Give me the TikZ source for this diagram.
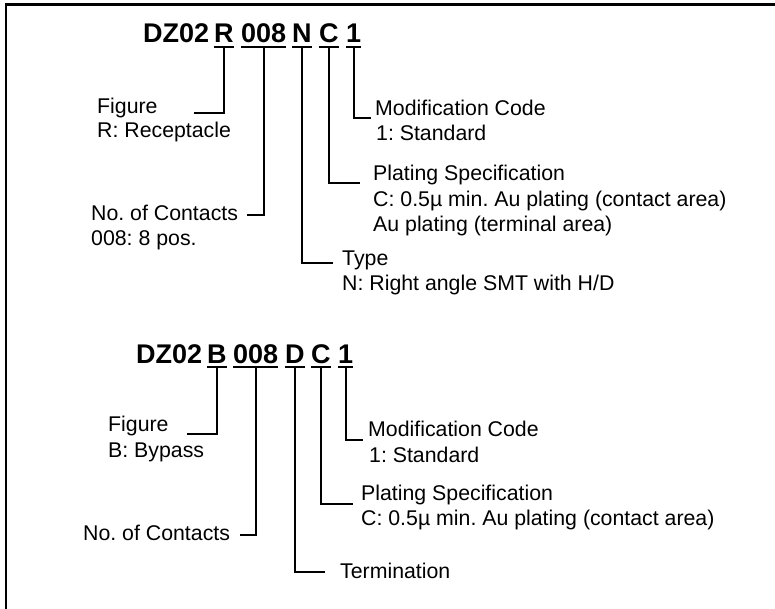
\documentclass[tikz,border=0pt]{standalone}
\usepackage{fontspec}
\setmainfont{Liberation Sans}
\frenchspacing
\tikzset{
  lab/.style={anchor=base west, inner sep=0pt, font=\fontsize{21.3}{25.5}\selectfont},
  code/.style={anchor=base west, inner sep=0pt, font=\fontsize{27}{30}\selectfont\bfseries},
  lead/.style={line width=2pt},
  uline/.style={line width=2pt},
  frame/.style={line width=2.4pt}
}
\begin{document}
\begin{tikzpicture}[x=1pt,y=-1pt]
\useasboundingbox (0,0) rectangle (775,608);
\clip (0,0) rectangle (775,608);
\draw[frame] (6,4.3) rectangle (800,640);

% ---------- first part number ----------
\node[code] (t1) at (143,42.7) {DZ02};
\node[code] (r1) at (214,42.7) {R};
\node[code] (n1) at (241,42.7) {008};
\node[code] (y1) at (292,42.7) {N};
\node[code] (p1) at (319,42.7) {C};
\node[code] (m1) at (346,42.7) {1};
\foreach \c in {r1,n1,y1,p1,m1}{
  \draw[uline] ([yshift=-4pt]\c.base west) -- ([yshift=-4pt]\c.base east);
}

\node[lab] (fig1a) at (97,113) {Figure};
\node[lab] (fig1b) at (97,137) {R: Receptacle};
\node[lab] (noc1a) at (91,220) {No. of Contacts};
\node[lab] (noc1b) at (91,245) {008: 8 pos.};
\node[lab] (typ1a) at (342,265) {Type};
\node[lab] (typ1b) at (342,290) {N: Right angle SMT with H/D};
\node[lab] (pl1a) at (373,180) {Plating Specification};
\node[lab] (pl1b) at (373,206) {C: 0.5µ min. Au plating (contact area)};
\node[lab] (pl1c) at (373,231) {Au plating (terminal area)};
\node[lab] (mod1a) at (375,115) {Modification Code};
\node[lab] (mod1b) at (376,140) {1: Standard};

\coordinate (e1r) at (194,113);
\coordinate (e1n) at (247,215);
\coordinate (e1y) at (333,263);
\coordinate (e1p) at (360,183);
\coordinate (e1m) at (371,118);
\draw[lead] ([yshift=-4pt]r1.base) |- (e1r);
\draw[lead] ([yshift=-4pt]n1.base) |- (e1n);
\draw[lead] ([yshift=-4pt]y1.base) |- (e1y);
\draw[lead] ([yshift=-4pt]p1.base) |- (e1p);
\draw[lead] ([yshift=-4pt]m1.base) |- (e1m);

% ---------- second part number ----------
\node[code] (t2) at (136,363) {DZ02};
\node[code] (b2) at (207,363) {B};
\node[code] (n2) at (233,363) {008};
\node[code] (d2) at (285,363) {D};
\node[code] (p2) at (311,363) {C};
\node[code] (m2) at (338,363) {1};
\foreach \c in {b2,n2,d2,p2,m2}{
  \draw[uline] ([yshift=-4pt]\c.base west) -- ([yshift=-4pt]\c.base east);
}

\node[lab] (fig2a) at (108,431) {Figure};
\node[lab] (fig2b) at (108,457) {B: Bypass};
\node[lab] (noc2a) at (83,540) {No. of Contacts};
\node[lab] (ter2a) at (340,578) {Termination};
\node[lab] (pl2a) at (361,500) {Plating Specification};
\node[lab] (pl2b) at (361,525) {C: 0.5µ min. Au plating (contact area)};
\node[lab] (mod2a) at (368,436) {Modification Code};
\node[lab] (mod2b) at (369,462) {1: Standard};

\coordinate (e2b) at (187,434);
\coordinate (e2n) at (240,535);
\coordinate (e2d) at (325,572);
\coordinate (e2p) at (353,504);
\coordinate (e2m) at (363,440);
\draw[lead] ([yshift=-4pt]b2.base) |- (e2b);
\draw[lead] ([yshift=-4pt]n2.base) |- (e2n);
\draw[lead] ([yshift=-4pt]d2.base) |- (e2d);
\draw[lead] ([yshift=-4pt]p2.base) |- (e2p);
\draw[lead] ([yshift=-4pt]m2.base) |- (e2m);
\end{tikzpicture}
\end{document}
